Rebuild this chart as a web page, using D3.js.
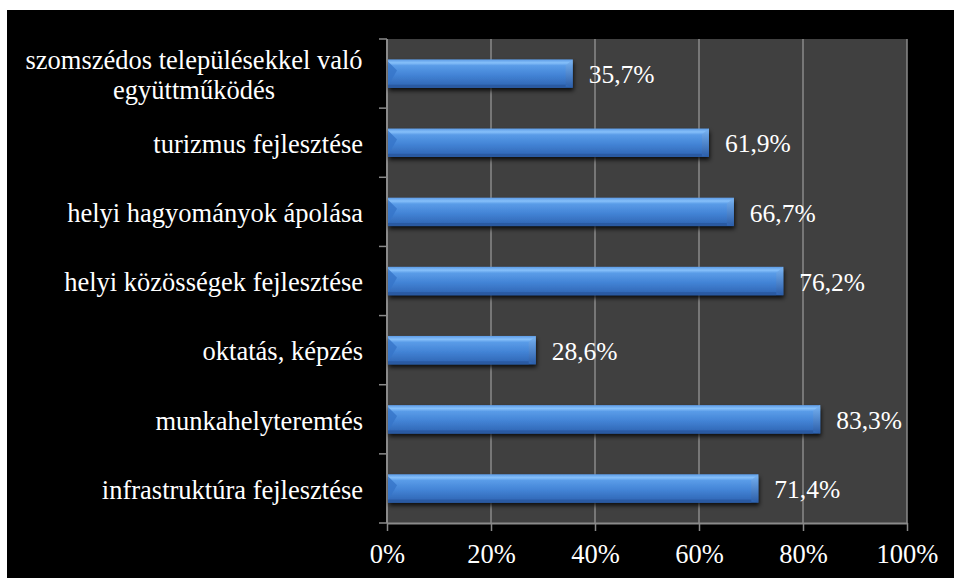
<!DOCTYPE html>
<html>
<head>
<meta charset="utf-8">
<script src="https://cdn.jsdelivr.net/npm/d3@7"></script>
</head>
<body style="margin:0">
<script>
var categories = [
    ["szomszédos településekkel való", "együttműködés"],
    ["turizmus fejlesztése"],
    ["helyi hagyományok ápolása"],
    ["helyi közösségek fejlesztése"],
    ["oktatás, képzés"],
    ["munkahelyteremtés"],
    ["infrastruktúra fejlesztése"]
];
var values = [35.7, 61.9, 66.7, 76.2, 28.6, 83.3, 71.4];
var tickValues = [0, 20, 40, 60, 80, 100];

var width = 954,
    height = 578;
var margin = {left: 387, right: 47, top: 39, bottom: 55};
var font = "Liberation Serif";

var svg = d3.select("body").append("svg")
    .attr("width", width)
    .attr("height", height)
    .attr("font-family", font)
    .style("display", "block");

// black panel with white strip at top/left
svg.append("rect")
    .attr("x", 7).attr("y", 10)
    .attr("width", width - 7).attr("height", height - 10)
    .attr("fill", "#000");

var defs = svg.append("defs");

var grad = defs.append("linearGradient")
    .attr("id", "barGrad")
    .attr("x1", 0).attr("y1", 0).attr("x2", 0).attr("y2", 1);
grad.append("stop").attr("offset", "0%").attr("stop-color", "#5c9be6");
grad.append("stop").attr("offset", "12%").attr("stop-color", "#86c0fa");
grad.append("stop").attr("offset", "22%").attr("stop-color", "#5a9ce8");
grad.append("stop").attr("offset", "55%").attr("stop-color", "#4384d6");
grad.append("stop").attr("offset", "100%").attr("stop-color", "#2d62b0");

var endGrad = defs.append("linearGradient")
    .attr("id", "endGrad")
    .attr("x1", 0).attr("y1", 0).attr("x2", 0).attr("y2", 1);
endGrad.append("stop").attr("offset", "0%").attr("stop-color", "#7ab4f2");
endGrad.append("stop").attr("offset", "100%").attr("stop-color", "#2b5ca6");

var shadow = defs.append("filter")
    .attr("id", "shadow")
    .attr("x", "-5%").attr("y", "-30%")
    .attr("width", "110%").attr("height", "170%");
shadow.append("feDropShadow")
    .attr("dx", 1).attr("dy", 3)
    .attr("stdDeviation", 2)
    .attr("flood-color", "#000")
    .attr("flood-opacity", 0.8);

var x = d3.scaleLinear()
    .domain([0, 100])
    .range([margin.left, width - margin.right]);

var y = d3.scaleBand()
    .domain(d3.range(categories.length))
    .range([margin.top, height - margin.bottom])
    .paddingInner(0.59)
    .paddingOuter(0.295);

var yOuter = d3.scaleBand()
    .domain(d3.range(categories.length))
    .range([margin.top, height - margin.bottom]);

// plot area
svg.append("rect")
    .attr("x", x(0)).attr("y", margin.top)
    .attr("width", x(100) - x(0))
    .attr("height", height - margin.bottom - margin.top)
    .attr("fill", "#404040");

// vertical gridlines
svg.append("g")
    .selectAll("line")
    .data(tickValues.slice(1))
  .enter().append("line")
    .attr("x1", function(d) { return x(d); })
    .attr("x2", function(d) { return x(d); })
    .attr("y1", margin.top)
    .attr("y2", height - margin.bottom)
    .attr("stroke", "#8a8a8a")
    .attr("stroke-width", 1.5);

// bottom axis
var xAxis = svg.append("g")
    .attr("transform", "translate(0," + (height - margin.bottom) + ")")
    .call(d3.axisBottom(x)
        .tickValues(tickValues)
        .tickSize(8)
        .tickSizeOuter(0)
        .tickFormat(function(d) { return d + "%"; }));
xAxis.attr("font-family", font).attr("font-size", 26.5);
xAxis.select(".domain").attr("stroke", "#8a8a8a").attr("stroke-width", 2);
xAxis.selectAll(".tick line").attr("stroke", "#8a8a8a").attr("stroke-width", 1.5);
xAxis.selectAll(".tick text")
    .attr("fill", "#fff")
    .attr("y", 21)
    .attr("dy", "0.71em")
    .attr("font-family", font)
    .attr("font-size", 26.5);

// left axis with ticks at band boundaries
var yAxisG = svg.append("g");
yAxisG.append("line")
    .attr("x1", x(0)).attr("x2", x(0))
    .attr("y1", margin.top).attr("y2", height - margin.bottom)
    .attr("stroke", "#8a8a8a").attr("stroke-width", 2);
var bounds = d3.range(categories.length + 1).map(function(i) {
    return i < categories.length ? yOuter(i) : yOuter(i - 1) + yOuter.bandwidth();
});
yAxisG.selectAll("line.tk")
    .data(bounds)
  .enter().append("line")
    .attr("class", "tk")
    .attr("x1", x(0) - 8).attr("x2", x(0))
    .attr("y1", function(d) { return d; })
    .attr("y2", function(d) { return d; })
    .attr("stroke", "#8a8a8a").attr("stroke-width", 1.5);

// bars
var bars = svg.append("g")
    .selectAll("g.bar")
    .data(values)
  .enter().append("g")
    .attr("class", "bar");

bars.append("rect")
    .attr("x", x(0) + 1)
    .attr("y", function(d, i) { return y(i); })
    .attr("width", function(d) { return x(d) - x(0) - 1; })
    .attr("height", y.bandwidth())
    .attr("fill", "url(#barGrad)")
    .attr("filter", "url(#shadow)");

var bw = y.bandwidth();
// right-end bevel
bars.append("path")
    .attr("d", function(d, i) {
        var x1 = x(d), y0 = y(i);
        return "M" + (x1 - 7) + "," + (y0 + 6) +
               "L" + x1 + "," + y0 +
               "L" + x1 + "," + (y0 + bw) +
               "L" + (x1 - 7) + "," + (y0 + bw - 3) + "Z";
    })
    .attr("fill", "url(#endGrad)")
    .attr("opacity", 0.85);
// left-end bevel
bars.append("path")
    .attr("d", function(d, i) {
        var x0 = x(0) + 1, y0 = y(i);
        return "M" + x0 + "," + (y0 + 2) +
               "L" + (x0 + 9) + "," + (y0 + 11) +
               "L" + x0 + "," + (y0 + bw - 2) + "Z";
    })
    .attr("fill", "#3674c8")
    .attr("opacity", 0.8);
// bottom darker edge
bars.append("rect")
    .attr("x", x(0) + 1)
    .attr("y", function(d, i) { return y(i) + bw - 3; })
    .attr("width", function(d) { return x(d) - x(0) - 8; })
    .attr("height", 3)
    .attr("fill", "#2a5aa2");

// value labels
bars.append("text")
    .attr("x", function(d) { return x(d) + 16; })
    .attr("y", function(d, i) { return y(i) + bw / 2; })
    .attr("dy", "0.38em")
    .attr("fill", "#fff")
    .attr("font-family", font)
    .attr("font-size", 25.5)
    .text(function(d) { return d.toFixed(1).replace(".", ",") + "%"; });

// category labels (two-line label is centred on a fixed column)
var labelX = 363,
    blockX = 194,
    lineH = 30;
var labs = svg.append("g")
    .selectAll("text")
    .data(categories)
  .enter().append("text")
    .attr("fill", "#fff")
    .attr("text-anchor", function(d) { return d.length > 1 ? "middle" : "end"; })
    .attr("font-family", font)
    .attr("font-size", 26.5)
    .attr("transform", function(d, i) {
        var cy = yOuter(i) + yOuter.bandwidth() / 2 + 1;
        return "translate(0," + cy + ")";
    });

labs.selectAll("tspan")
    .data(function(d) { return d.map(function(l, k) { return {line: l, k: k, n: d.length}; }); })
  .enter().append("tspan")
    .attr("x", function(d) { return d.n > 1 ? blockX : labelX; })
    .attr("y", function(d) { return (d.k - (d.n - 1) / 2) * lineH; })
    .attr("dy", "0.35em")
    .text(function(d) { return d.line; });
</script>
</body>
</html>
